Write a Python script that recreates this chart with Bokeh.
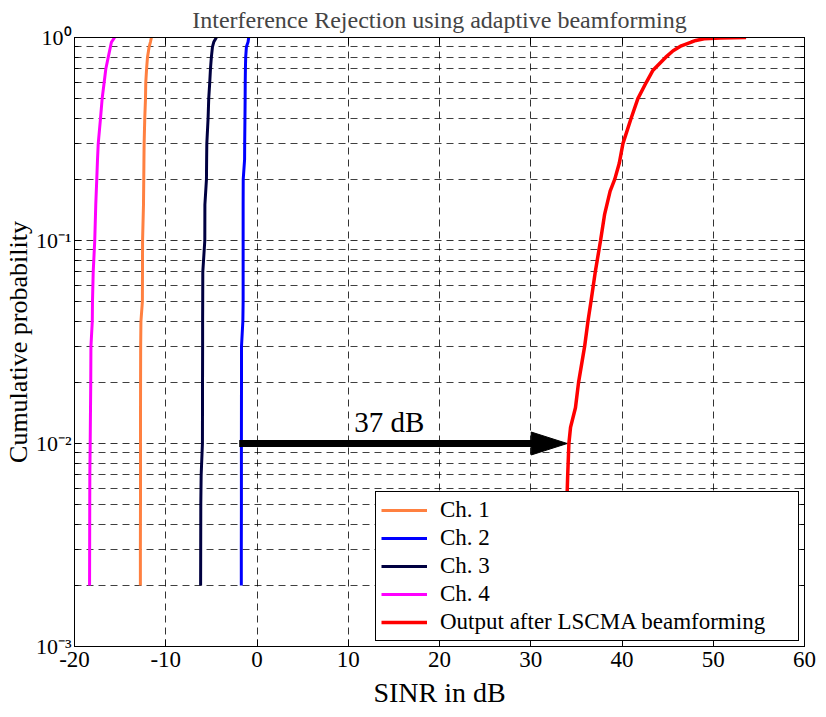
import math
from bokeh.plotting import figure
from bokeh.models import FixedTicker, LinearAxis, LogAxis, Label
from bokeh.embed import file_html
from bokeh.resources import INLINE

FONT = "Liberation Serif"

# ---------------- data ----------------
title_text = "Interference Rejection using adaptive beamforming"
x_label = "SINR in dB"
y_label = "Cumulative probability"
x_ticks = [-20, -10, 0, 10, 20, 30, 40, 50, 60]
x_tick_labels = ["-20", "-10", "0", "10", "20", "30", "40", "50", "60"]
y_ticks = [1e-3, 1e-2, 1e-1, 1.0]
y_tick_labels = ["10\u207b\u00b3", "10\u207b\u00b2", "10\u207b\u00b9", "10\u2070"]

ch_prob = [0.002, 0.003, 0.005, 0.007, 0.01, 0.02, 0.03, 0.04, 0.05, 0.07, 0.1,
           0.15, 0.2, 0.25, 0.3, 0.4, 0.5, 0.6, 0.7, 0.8, 0.9, 0.95, 1.0]
ch1_sinr = [-12.78, -12.78, -12.77, -12.77, -12.77, -12.76, -12.75, -12.72, -12.56,
            -12.55, -12.54, -12.44, -12.41, -12.39, -12.37, -12.30, -12.22, -12.19,
            -12.10, -12.00, -11.82, -11.68, -11.57]
ch2_sinr = [-1.72, -1.72, -1.71, -1.71, -1.71, -1.70, -1.70, -1.55, -1.52, -1.52,
            -1.52, -1.52, -1.51, -1.36, -1.35, -1.32, -1.30, -1.29, -1.27, -1.24,
            -1.16, -0.98, -0.91]
ch3_sinr = [-6.18, -6.17, -6.16, -6.12, -5.98, -5.97, -5.96, -5.96, -5.95, -5.94,
            -5.72, -5.71, -5.54, -5.52, -5.50, -5.36, -5.29, -5.18, -5.10, -5.00,
            -4.88, -4.74, -4.45]
ch4_sinr = [-18.35, -18.34, -18.33, -18.32, -18.28, -18.22, -18.20, -18.05, -18.03,
            -17.95, -17.78, -17.67, -17.56, -17.48, -17.40, -17.15, -16.97, -16.75,
            -16.57, -16.30, -16.06, -15.95, -15.60]

out_prob = [0.002, 0.003, 0.005, 0.007, 0.01, 0.012, 0.015, 0.02, 0.03, 0.04, 0.05,
            0.07, 0.1, 0.135, 0.175, 0.2, 0.24, 0.3, 0.4, 0.5, 0.6, 0.69, 0.8, 0.86,
            0.91, 0.95, 0.967, 0.985, 0.995, 1.0]
out_sinr = [33.7, 33.8, 33.95, 34.05, 34.18, 34.36, 34.9, 35.24, 35.9, 36.27, 36.6,
            37.07, 37.65, 38.1, 38.7, 39.2, 39.7, 40.1, 41.0, 41.74, 42.65, 43.4,
            44.8, 45.6, 46.5, 47.6, 48.1, 49.0, 50.8, 53.6]

series_names = ["Ch. 1", "Ch. 2", "Ch. 3", "Ch. 4", "Output after LSCMA beamforming"]
series_colors = ["#FF8040", "#0000FF", "#000040", "#FF00FF", "#FF0000"]

arrow_y = 0.01
arrow_x_start = -1.95
arrow_x_end = 34.0
arrow_text = "37 dB"
arrow_text_x = 14.5
arrow_text_y = 0.0127

# ---------------- figure ----------------
p = figure(width=826, height=717, x_range=(-20, 60), y_range=(1e-3, 1.0),
           y_axis_type="log", output_backend="svg", toolbar_location=None,
           min_border_left=73, min_border_right=22, min_border_top=37,
           min_border_bottom=71)
p.background_fill_color = "white"
p.border_fill_color = "white"
p.outline_line_color = "black"
p.outline_line_width = 1
p.outline_line_alpha = 1

p.title.text = title_text
p.title.text_font = FONT
p.title.text_font_size = "24px"
p.title.text_font_style = "normal"
p.title.text_line_height = 1.0
p.title.align = "center"
p.title.standoff = 9

minor_y = [k * 10 ** e for e in (-3, -2, -1) for k in range(2, 10)]

xa = p.xaxis[0]
xa.ticker = FixedTicker(ticks=x_ticks)
xa.major_label_overrides = {t: s for t, s in zip(x_ticks, x_tick_labels)}
xa.major_tick_in = 7
xa.major_tick_out = 0
xa.minor_tick_in = 0
xa.minor_tick_out = 0
xa.axis_line_color = "black"
xa.major_label_text_font = FONT
xa.major_label_text_font_size = "23px"
xa.major_label_text_color = "black"
xa.major_label_standoff = 5
xa.axis_label = x_label
xa.axis_label_text_font = FONT
xa.axis_label_text_font_size = "28px"
xa.axis_label_text_font_style = "normal"
xa.axis_label_text_color = "black"
xa.axis_label_text_line_height = 1.0
xa.axis_label_standoff = 7

ya = p.yaxis[0]
ya.ticker = FixedTicker(ticks=y_ticks, minor_ticks=minor_y)
ya.major_label_overrides = {t: s for t, s in zip(y_ticks, y_tick_labels)}
ya.major_tick_in = 7
ya.major_tick_out = 0
ya.minor_tick_in = 4
ya.minor_tick_out = 0
ya.axis_line_color = "black"
ya.major_label_text_font = FONT
ya.major_label_text_font_size = "22px"
ya.major_label_text_color = "black"
ya.major_label_standoff = 3
ya.axis_label = y_label
ya.axis_label_text_font = FONT
ya.axis_label_text_font_size = "26px"
ya.axis_label_text_font_style = "normal"
ya.axis_label_text_color = "black"
ya.axis_label_text_line_height = 0.75
ya.axis_label_standoff = 0

top_axis = LinearAxis(ticker=FixedTicker(ticks=x_ticks), major_tick_in=7,
                      major_tick_out=0, minor_tick_in=0, minor_tick_out=0,
                      major_label_text_font_size="1px", major_label_text_color=None,
                      major_label_standoff=0, axis_line_color="black")
p.add_layout(top_axis, "above")
right_axis = LogAxis(ticker=FixedTicker(ticks=y_ticks, minor_ticks=minor_y),
                     major_tick_in=7, major_tick_out=0, minor_tick_in=4,
                     minor_tick_out=0, major_label_text_font_size="1px",
                     major_label_text_color=None,
                     major_label_standoff=0, axis_line_color="black")
p.add_layout(right_axis, "right")

for g in (p.xgrid[0], p.ygrid[0]):
    g.grid_line_color = "black"
    g.grid_line_alpha = 0.8
    g.grid_line_dash = "7 5"
    g.grid_line_width = 1
p.ygrid[0].minor_grid_line_color = "black"
p.ygrid[0].minor_grid_line_alpha = 0.75
p.ygrid[0].minor_grid_line_dash = "7 5"

# curves
ch_series = [ch1_sinr, ch2_sinr, ch3_sinr, ch4_sinr]
for name, color, xs in zip(series_names[:4], series_colors[:4], ch_series):
    p.line(xs, ch_prob, line_color=color, line_width=3, legend_label=name)

# arrow
head_len = 3.95
head_fac = 1.139
p.line([arrow_x_start, arrow_x_end - head_len + 0.3], [arrow_y, arrow_y],
       line_color="black", line_width=7)
p.patch([arrow_x_end - head_len, arrow_x_end, arrow_x_end - head_len],
        [arrow_y * head_fac, arrow_y, arrow_y / head_fac],
        fill_color="black", line_color="black", line_width=1)

p.line(out_sinr, out_prob, line_color=series_colors[4], line_width=3.5,
       legend_label=series_names[4])

p.add_layout(Label(x=arrow_text_x, y=arrow_text_y, text=arrow_text,
                   text_align="center", text_baseline="alphabetic",
                   text_font=FONT, text_font_size="29px", text_color="black"))

leg = p.legend[0]
leg.location = "bottom_right"
leg.label_text_font = FONT
leg.label_text_font_size = "23px"
leg.label_text_line_height = 0.9
leg.label_text_color = "black"
leg.border_line_color = "black"
leg.border_line_width = 1
leg.border_line_alpha = 1
leg.background_fill_color = "white"
leg.background_fill_alpha = 1
leg.glyph_width = 46
leg.glyph_height = 22
leg.label_height = 22
leg.spacing = 2
leg.padding = 5
leg.margin = 5
leg.label_standoff = 13
leg.label_width = 353

open("out.html", "w").write(file_html(p, INLINE))
